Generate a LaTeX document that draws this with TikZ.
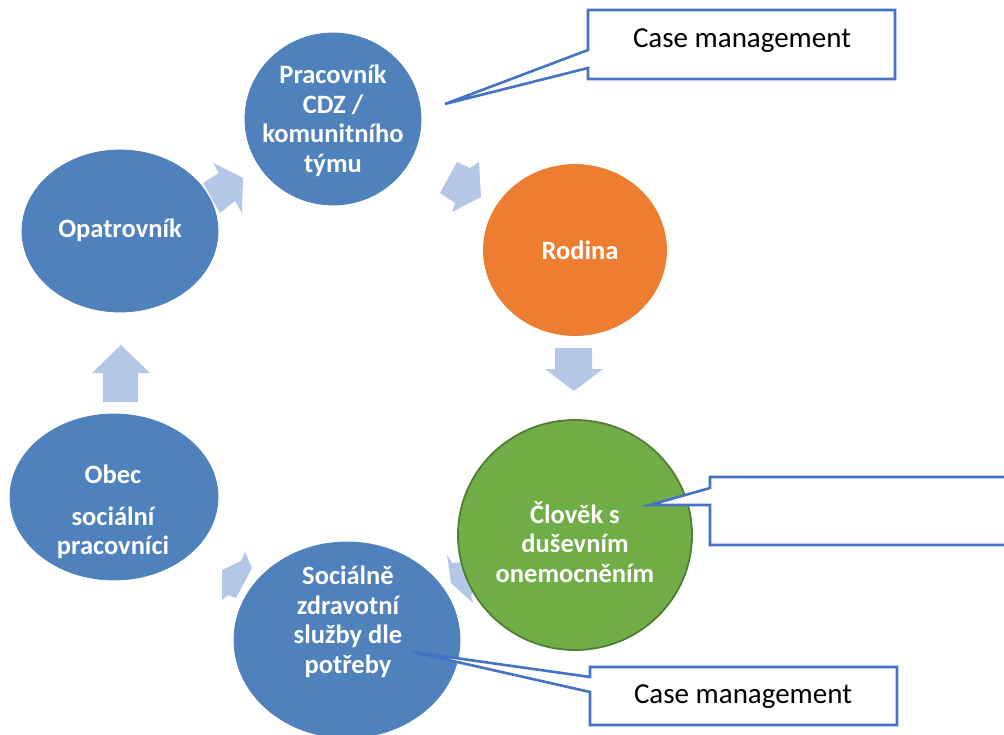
\documentclass[tikz,border=0pt]{standalone}
\usepackage{fontspec}
\setmainfont{Carlito}
\usetikzlibrary{shapes.geometric}
\definecolor{cblue}{HTML}{4F81BD}
\definecolor{corange}{HTML}{ED7D31}
\definecolor{cgreen}{HTML}{70AD47}
\definecolor{cgreend}{HTML}{507E32}
\definecolor{carrow}{HTML}{B4C7E7}
\definecolor{cline}{HTML}{4472C4}
\begin{document}
\begin{tikzpicture}[x=1pt,y=-1pt,
  bub/.style={ellipse, inner sep=0pt, fill=cblue, draw=cblue, line width=0.8pt},
  lbl/.style={text=white, font=\bfseries\fontsize{26.5}{29.5}\selectfont, align=center, inner sep=0pt},
  blockarrow/.style={fill=carrow, draw=none},
  callout/.style={fill=white, draw=cline, line width=2.6pt, line join=miter},
  cmtext/.style={font=\fontsize{29}{34}\selectfont, text=black, inner sep=0pt}]
\useasboundingbox (0,0) rectangle (1004,735);
\clip (0,0) rectangle (1004,735);

% block arrows
\fill[blockarrow] (213,163) -- (243,178) -- (242,213) -- (235,201) -- (220,213) -- (203,183) -- (219,173) -- cycle;
\fill[blockarrow] (457,162) -- (470,168) -- (479,162) -- (481,197) -- (452,212) -- (455,203) -- (440,193) -- cycle;
\fill[blockarrow] (555,348) -- (592,348) -- (592,369) -- (603,369) -- (574,391) -- (545,369) -- (555,369) -- cycle;
\fill[blockarrow] (121,345) -- (150,373) -- (138,373) -- (138,402) -- (103,402) -- (103,373) -- (92,373) -- cycle;
\fill[blockarrow] (245,552) -- (252,568) -- (236,598) -- (228,595) -- (222,600) -- (222,570) -- (241,561) -- cycle;
\fill[blockarrow] (447,555) -- (452,563) -- (462,562) -- (477,588) -- (471,595) -- (473,603) -- (451,583) -- cycle;

% ellipses
\node[bub, minimum width=176pt, minimum height=172pt] (prac) at (333,119) {};
\node[bub, fill=corange, draw=corange, minimum width=183pt, minimum height=171pt] (rod) at (575,250) {};
\node[bub, fill=cgreen, draw=cgreend, line width=1.8pt, minimum width=234pt, minimum height=230pt] (clov) at (575,535) {};
\node[bub, minimum width=226pt, minimum height=196pt] (soc) at (347,640) {};
\node[bub, minimum width=208pt, minimum height=166pt] (obec) at (114,497) {};
\node[bub, minimum width=196pt, minimum height=162pt] (opat) at (120,231) {};

% callouts
\draw[callout] (588,10) -- (895,10) -- (895,79) -- (588,79) -- (588,68) -- (445,104) -- (588,50) -- cycle;
\draw[callout] (710,477) -- (1020,477) -- (1020,545) -- (710,545) -- (710,505) -- (650,505) -- (710,488) -- cycle;
\draw[callout] (590,667) -- (897,667) -- (897,725) -- (590,725) -- (590,692) -- (413,652) -- (590,677) -- cycle;
\node[cmtext] (cm1) at (742,41) {Case management};
\node[cmtext] (cm3) at (743,697) {Case management};

% texts
\node[lbl] (tprac) at (333,121) {Pracovník\\CDZ /\\komunitního\\týmu};
\node[lbl] (trod) at (580,250) {Rodina};
\node[lbl] (tclov) at (575,542) {Člověk s\\duševním\\onemocněním};
\node[lbl] (tsoc) at (348,622) {Sociálně\\zdravotní\\služby dle\\potřeby};
\node[lbl] (tobec) at (113,512) {Obec\\[12pt]sociální\\pracovníci};
\node[lbl] (topat) at (120,230) {Opatrovník};
\end{tikzpicture}
\end{document}
